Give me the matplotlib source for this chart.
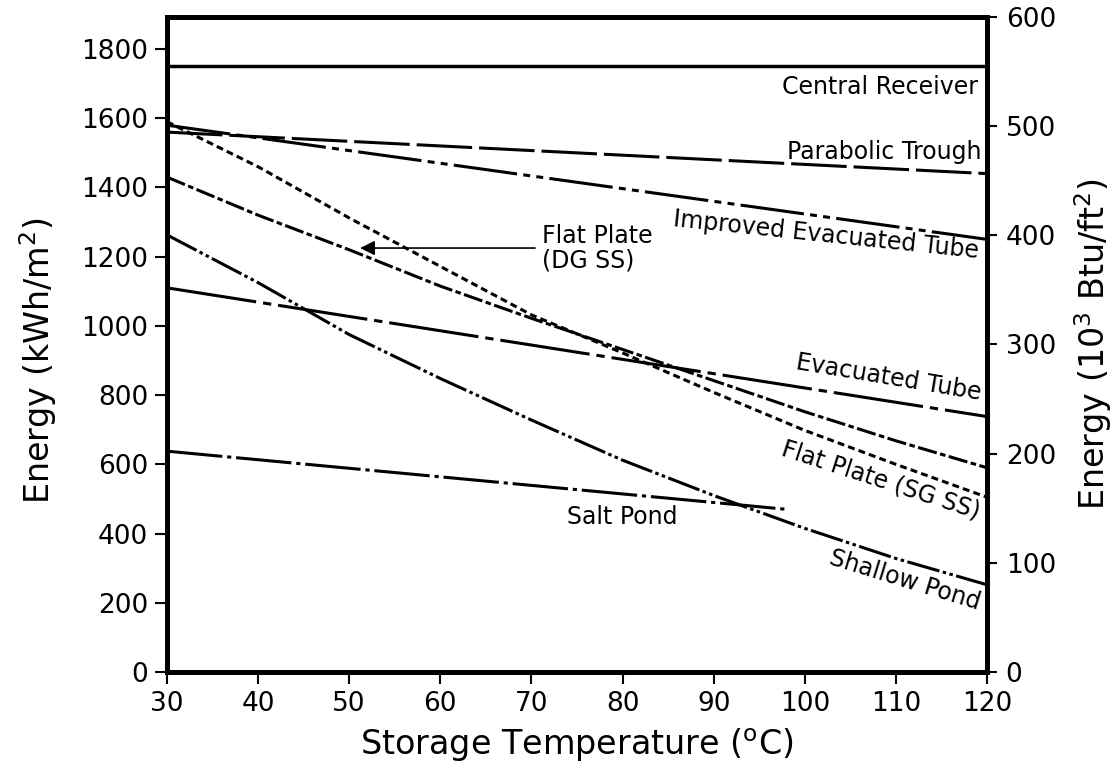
import matplotlib
matplotlib.use("Agg")
import matplotlib.pyplot as plt

plt.rcParams['font.family'] = ['DejaVu Sans']
plt.rcParams['lines.scale_dashes'] = False
plt.rcParams['mathtext.default'] = 'regular'

# kWh/m^2 -> 10^3 Btu/ft^2
KWH_TO_KBTU = 0.317

# annual energy delivered (kWh/m^2) vs storage temperature (deg C)
central_t = [30, 120]
central_e = [1750, 1750]

trough_t = [30, 120]
trough_e = [1560, 1440]

imp_evac_t = [30, 120]
imp_evac_e = [1580, 1250]

fp_dg_t = [30, 40, 50, 60, 70, 80, 90, 100, 110, 120]
fp_dg_e = [1430, 1320, 1220, 1115, 1022, 932, 842, 752, 668, 590]

fp_sg_t = [30, 40, 50, 60, 70, 80, 90, 100, 110, 120]
fp_sg_e = [1590, 1460, 1312, 1172, 1032, 922, 808, 698, 600, 505]

evac_t = [30, 120]
evac_e = [1110, 738]

shallow_t = [30, 40, 50, 60, 70, 80, 90, 100, 110, 120]
shallow_e = [1263, 1125, 975, 848, 728, 612, 510, 415, 328, 252]

salt_t = [30, 98]
salt_e = [638, 470]

left_ticks = [0, 200, 400, 600, 800, 1000, 1200, 1400, 1600, 1800]
right_ticks = [0, 100, 200, 300, 400, 500, 600]
x_ticks = [30, 40, 50, 60, 70, 80, 90, 100, 110, 120]

fig = plt.figure(figsize=(11.16, 7.67), dpi=100)
ax = fig.add_axes([0.1496, 0.1239, 0.7348, 0.8540])

lw = 2.2
ax.plot(central_t, central_e, color='black', lw=2.5, solid_capstyle='butt')
ax.plot(trough_t, trough_e, color='black', lw=lw, dashes=(40, 5))
ax.plot(imp_evac_t, imp_evac_e, color='black', lw=lw, dashes=(46, 4.5, 5, 4.5, 5, 4.5))
ax.plot(fp_dg_t, fp_dg_e, color='black', lw=lw, dashes=(14, 2.5, 4, 2.5))
ax.plot(fp_sg_t, fp_sg_e, color='black', lw=lw, dashes=(5, 3))
ax.plot(evac_t, evac_e, color='black', lw=lw, dashes=(65, 5, 6, 5))
ax.plot(shallow_t, shallow_e, color='black', lw=lw, dashes=(24, 2.5, 2.5, 2.5, 2.5, 2.5))
ax.plot(salt_t, salt_e, color='black', lw=lw, dashes=(40, 3.5, 3, 3.5))

ax.set_xlim(30, 120)
ax.set_ylim(0, 600 / KWH_TO_KBTU)
ax.set_xticks(x_ticks)
ax.set_yticks(left_ticks)

ax2 = ax.twinx()
ax2.set_ylim(0, 600)
ax2.set_yticks(right_ticks)

for a in (ax, ax2):
    for side in a.spines.values():
        side.set_linewidth(3.5)
ax.tick_params(axis='both', direction='out', length=8.5, width=1.5, labelsize=19)
ax.tick_params(axis='y', pad=5)
ax.tick_params(axis='x', pad=5)
ax2.tick_params(axis='y', direction='out', length=7.5, width=1.5, labelsize=19, pad=6)

ax.set_xlabel(r'Storage Temperature ($^\mathrm{o}$C)', fontsize=24)
ax.xaxis.set_label_coords(0.5, -0.083)
ax.set_ylabel(r'Energy (kWh/m$^2$)', fontsize=24)
ax.yaxis.set_label_coords(-0.132, 0.475)
ax2.set_ylabel(r'Energy (10$^3$ Btu/ft$^2$)', fontsize=24)
ax2.yaxis.set_label_coords(1.104, 0.5)

# curve labels
fs = 17
ax.text(119.0, 1690, 'Central Receiver', fontsize=fs, ha='right', va='center')
ax.text(119.4, 1503, 'Parabolic Trough', fontsize=fs, ha='right', va='center')
ax.text(102.3, 1263, 'Improved Evacuated Tube', fontsize=fs, ha='center', va='center',
        rotation=-6)
ax.text(109.2, 850, 'Evacuated Tube', fontsize=fs, ha='center', va='center', rotation=-9.5)
ax.text(108.3, 555, 'Flat Plate (SG SS)', fontsize=fs, ha='center', va='center', rotation=-18)
ax.text(111.0, 266, 'Shallow Pond', fontsize=fs, ha='center', va='center', rotation=-17)
ax.text(73.9, 448, 'Salt Pond', fontsize=fs, ha='left', va='center')
ax.text(71.2, 1225, 'Flat Plate\n(DG SS)', fontsize=fs, ha='left', va='center',
        linespacing=1.05)
ax.annotate('', xy=(51.2, 1225), xytext=(70.4, 1225),
            arrowprops=dict(arrowstyle='-|>', color='black', lw=1.2, mutation_scale=22,
                            shrinkA=0, shrinkB=0))

fig.savefig('out.png', dpi=100)
